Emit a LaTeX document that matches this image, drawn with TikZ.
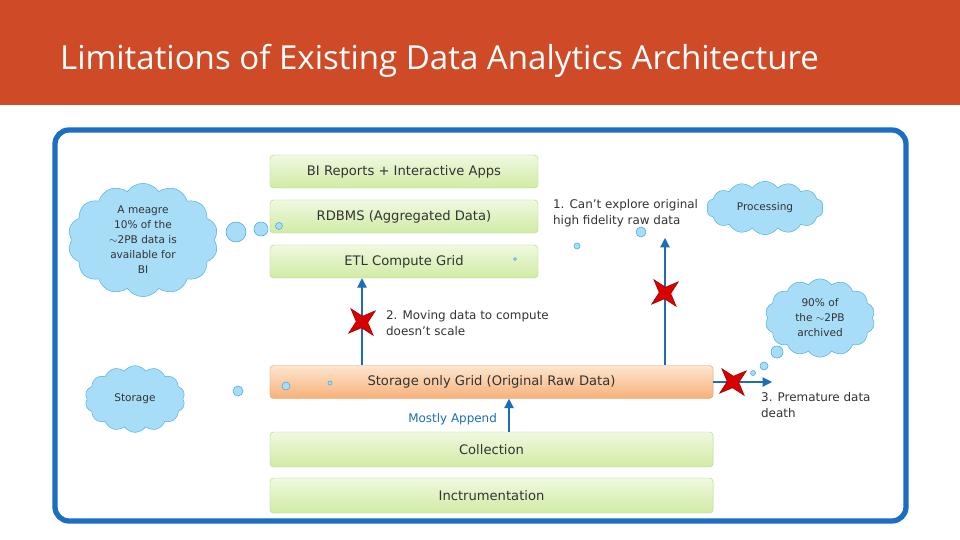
\documentclass[tikz,border=0pt]{standalone}
\usepackage{fontspec}
\setmainfont{DejaVu Sans}
\newfontfamily\titlefont{Open Sans}
\usetikzlibrary{shapes.symbols,shapes.geometric,arrows.meta,calc}

\definecolor{headred}{HTML}{CF4A27}
\definecolor{frameblue}{HTML}{1B6EC2}
\definecolor{greentop}{HTML}{F0F9E0}
\definecolor{greenbot}{HTML}{D0EBA4}
\definecolor{greenline}{HTML}{B3D88A}
\definecolor{orangetop}{HTML}{FDE6CF}
\definecolor{orangebot}{HTML}{F7B07A}
\definecolor{orangeline}{HTML}{F0A060}
\definecolor{cloudfill}{HTML}{A8DDF7}
\definecolor{cloudline}{HTML}{4AAEDC}
\definecolor{arrowblue}{HTML}{1C6DB8}
\definecolor{labelgray}{HTML}{333333}

\tikzset{
	layer/.style={draw=greenline, rounded corners=3pt, top color=greentop, bottom color=greenbot,
		minimum height=0.99cm, text=labelgray, font=\fontsize{11.2}{13}\selectfont},
	rawlayer/.style={layer, draw=orangeline, top color=orangetop, bottom color=orangebot},
	thought/.style={cloud, cloud puffs=14, cloud puff arc=110, draw=cloudline, fill=cloudfill,
		text=labelgray, align=center, inner sep=0pt, font=\fontsize{9}{12.75}\selectfont},
	bubble/.style={draw=cloudline, fill=cloudfill, line width=0.5pt},
	flow/.style={draw=arrowblue, line width=1pt, -{Triangle[width=8pt,length=8pt]}},
	cross/.style={star, star points=4, star point ratio=3, rotate=40, fill=red!85!black,
		draw=red!60!black, minimum size=1.05cm, inner sep=0pt},
	note/.style={text=labelgray, align=left, anchor=west, font=\fontsize{10.2}{13.5}\selectfont}
}

\begin{document}
\begin{tikzpicture}[x=0.03cm, y=-0.03cm]
	\useasboundingbox (0,0) rectangle (960,540);
	\fill[white] (0,0) rectangle (960,540);

	% header
	\fill[headred] (0,0) rectangle (960,105);
	\node[anchor=west, text=white, font=\titlefont\fontsize{28.2}{32}\selectfont] (title) at (56,61)
		{Limitations of Existing Data Analytics Architecture};

	% frame
	\draw[frameblue, line width=4.5pt, rounded corners=12pt] (55,130) rectangle (906,521);

	% layers
	\node[layer, minimum width=8.04cm] (bi) at (404,171.5) {BI Reports + Interactive Apps};
	\node[layer, minimum width=8.04cm] (rdbms) at (404,216.5) {RDBMS (Aggregated Data)};
	\node[layer, minimum width=8.04cm] (etl) at (404,261.5) {ETL Compute Grid};
	\node[rawlayer, minimum width=13.29cm] (storage) at (491.5,382) {Storage only Grid (Original Raw Data)};
	\node[layer, minimum width=13.29cm, minimum height=1.05cm] (collect) at (491.5,449.5) {Collection};
	\node[layer, minimum width=13.29cm, minimum height=1.05cm] (instr) at (491.5,495.5) {Inctrumentation};

	% clouds
	\node[thought, minimum width=4.5cm, minimum height=3.4cm] (meagre) at (143,240)
		{A meagre\\10\% of the\\$\sim$2PB data is\\available for\\BI};
	\node[thought, aspect=1.4, minimum width=3cm, minimum height=2cm] (store) at (135,399) {Storage};
	\node[thought, aspect=2.3, minimum width=3.5cm, minimum height=1.6cm] (proc) at (765,208) {Processing};
	\node[thought, minimum width=3.3cm, minimum height=2.35cm] (archived) at (820,318)
		{90\% of\\the $\sim$2PB\\archived};

	% bubbles
	\draw[bubble] (236,232) circle (10);
	\draw[bubble] (261,229) circle (7);
	\draw[bubble] (279,226) circle (3.5);
	\draw[bubble] (238,391) circle (5);
	\draw[bubble] (286,386) circle (4);
	\draw[bubble] (330,383) circle (2);
	\draw[bubble] (641,232) circle (5);
	\draw[bubble] (577,246) circle (3);
	\draw[bubble] (515,259) circle (1.5);
	\draw[bubble] (777,352) circle (6);
	\draw[bubble] (764,366) circle (4);
	\draw[bubble] (753,373) circle (2.5);

	% arrows
	\coordinate (up1) at (665,238);
	\coordinate (out3) at (772,382);
	\coordinate (app) at (509,432);
	\draw[flow] (362,365) -- (etl.south -| 362,0);
	\draw[flow] (up1 |- storage.north) -- (up1);
	\draw[flow] (storage.east) -- (out3);
	\draw[flow] (app) -- (app |- storage.south);

	% crosses
	\node[cross] (x2) at (362,322) {};
	\node[cross] (x1) at (665,293) {};
	\node[cross] (x3) at (733,382) {};

	% notes
	\node[note] (n1) at (549,213) {1. Can't explore original\\high fidelity raw data};
	\node[note] (n2) at (382,323) {2. Moving data to compute\\doesn't scale};
	\node[note, anchor=north west] (n3) at (757,388) {3. Premature data\\death};
	\node[note, anchor=east, text=arrowblue] (append) at (501,419) {Mostly Append};
\end{tikzpicture}
\end{document}
